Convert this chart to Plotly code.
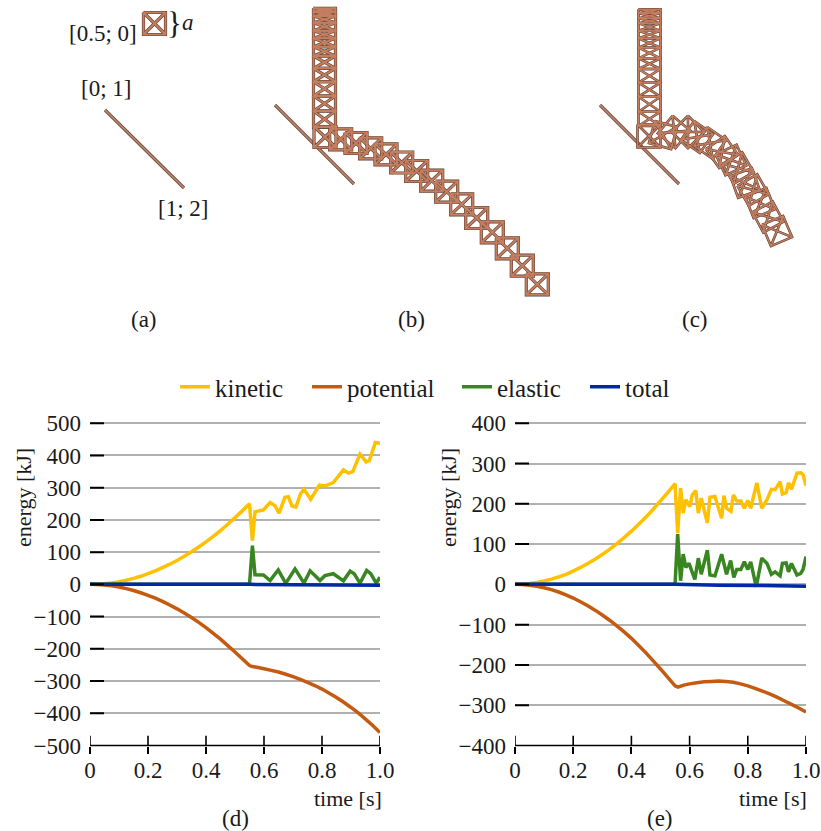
import math
import plotly.graph_objects as go

# ---------- energy data ----------
t_pre = [0, .025, .05, .075, .1, .125, .15, .175, .2, .225, .25, .275, .3, .325, .35, .375, .4, .425, .45, .475, .5, .525, .55]
kin_pre = [0, .5, 2, 4.6, 8.3, 13, 18.6, 25, 33, 42, 52, 62.5, 74, 87, 101, 116, 132, 149, 167, 186.5, 207, 228, 250]
pot_pre = [0, -.5, -2, -4.7, -8.4, -13.2, -19, -26, -34, -43, -53, -64, -76, -89, -103, -118, -134, -152, -170, -190, -210, -231, -252]

t_kin_d = [.56, .569, .598, .621, .638, .652, .672, .684, .696, .710, .726, .738, .761, .791, .810, .839, .874, .891, .906, .931, .952, .963, .984, 1.0]
kin_d = [136, 225, 231, 254, 244, 221, 270, 272, 244, 240, 281, 295, 264, 308, 305, 316, 355, 345, 350, 404, 380, 384, 440, 438]
t_ela_d = [0, .55, .56, .569, .598, .621, .649, .675, .707, .738, .759, .793, .81, .839, .874, .897, .911, .931, .954, .968, .987, 1.0]
ela_d = [0, 0, 120, 30, 29, 12, 45, 3, 48, 4, 42, 12, 27, 33, 11, 41, 33, 4, 43, 33, 4, 22]
t_pot_d = [.56, .58, .6, .625, .65, .675, .7, .725, .75, .775, .8, .825, .85, .875, .9, .925, .95, .975, 1.0]
pot_d = [-255, -258, -262, -267, -272, -279, -286, -295, -304, -314, -325, -338, -351, -366, -382, -399, -418, -438, -460]
t_tot_d = [0, .55, .7, .85, 1.0]
tot_d = [0, 0, -1, -2, -3]

t_kin_e = [.559, .569, .578, .587, .601, .609, .621, .630, .640, .661, .670, .687, .710, .718, .727, .742, .750, .762, .776, .788, .800, .810, .831, .848, .866, .881, .894, .911, .919, .932, .940, .950, .969, .982, .990, 1.0]
kin_e = [127, 239, 177, 210, 193, 222, 233, 177, 214, 153, 216, 218, 164, 220, 189, 181, 222, 207, 207, 189, 208, 189, 252, 189, 210, 236, 235, 255, 224, 228, 252, 236, 276, 277, 272, 245]
t_ela_e = [0, .55, .559, .569, .578, .587, .598, .618, .630, .640, .661, .670, .687, .710, .727, .741, .752, .762, .776, .788, .8, .81, .829, .848, .866, .881, .894, .911, .919, .932, .940, .950, .969, .982, .99, 1.0]
ela_e = [0, 0, 125, 9, 75, 42, 52, 12, 65, 25, 85, 23, 21, 75, 25, 59, 17, 37, 37, 56, 37, 56, -6, 65, 52, 25, 31, 21, 52, 53, 31, 52, 23, 27, 37, 69]
t_pot_e = [.56, .58, .6, .625, .65, .675, .7, .725, .75, .775, .8, .825, .85, .875, .9, .925, .95, .975, 1.0]
pot_e = [-255, -250, -247, -244, -242, -241, -240, -241, -243, -247, -252, -258, -265, -272, -280, -289, -298, -307, -317]
t_tot_e = [0, .55, .7, .85, 1.0]
tot_e = [0, 0, -2, -3, -5]

x_ticks = [0, .2, .4, .6, .8, 1.0]
x_labels = ["0", "0.2", "0.4", "0.6", "0.8", "1.0"]
y_ticks_d = [500, 400, 300, 200, 100, 0, -100, -200, -300, -400, -500]
y_labels_d = ["500", "400", "300", "200", "100", "0", "−100", "−200", "−300", "−400", "−500"]
y_ticks_e = [400, 300, 200, 100, 0, -100, -200, -300, -400]
y_labels_e = ["400", "300", "200", "100", "0", "−100", "−200", "−300", "−400"]
series_names = ["kinetic", "potential", "elastic", "total"]
series_colors = ["#ffc000", "#c55a11", "#38861f", "#002aa5"]
legend_left = [175, 307, 457, 585]

# ---------- schematic data (image-pixel scene) ----------
floor_x = [[105, 184], [275, 354], [600, 679]]
floor_y = [[110, 188], [105, 184], [105, 184]]
ref_cell = (154.5, 23.5, 22, 22, 0)

col_b_x = 324.5
col_b_bars = [8.3, 11.7, 16, 22.7, 30.7, 38.3, 46.7, 56, 68.3, 81.7, 96, 111, 127.3]
chain_b_x = [325, 340.7, 356, 370.7, 386, 401.7, 416.7, 431.7, 446.7, 461.7, 476.7, 492.3, 507.3, 522.3, 537.3]
chain_b_y = [137, 139.3, 143, 148.3, 154.3, 162.5, 171, 180.7, 191.7, 204.3, 218, 232.3, 248.3, 265.7, 284.3]

col_c_x = 649.5
col_c_bars = [9.3, 13.3, 18.3, 23.3, 30.7, 38.3, 47.7, 58.3, 69, 82.7, 96.7, 111.7, 126]
chain_c_x = [649, 663, 674, 688, 697, 710, 722, 731, 738, 745, 753, 760, 768, 777]
chain_c_y = [136, 135, 132, 132, 137, 143, 152, 160, 168, 183, 190, 203, 217, 231]
chain_c_a = [0, 15, 40, 45, 35, 35, -35, -25, -30, -20, -30, -22, -28, -23]


def cell_path(cx, cy, w, h, deg):
    a = math.radians(deg)
    c, s = math.cos(a), math.sin(a)
    pts = [(-w/2, -h/2), (w/2, -h/2), (w/2, h/2), (-w/2, h/2)]
    p = [(cx + u*c - v*s, cy + u*s + v*c) for u, v in pts]
    order = [p[0], p[1], p[2], p[3], p[0], None, p[0], p[2], None, p[1], p[3], None]
    return [q[0] if q else None for q in order], [q[1] if q else None for q in order]


def cells_to_path(cells):
    px, py = [], []
    for cell in cells:
        xs, ys = cell_path(*cell)
        px.extend(xs)
        py.extend(ys)
    return px, py


def column(col_x, bars):
    return [(col_x, (a + b) / 2, 22, b - a, 0) for a, b in zip(bars[:-1], bars[1:])]


group_b = [ref_cell] + column(col_b_x, col_b_bars) + [(x, y, 22, 21, 0) for x, y in zip(chain_b_x, chain_b_y)]
group_c = column(col_c_x, col_c_bars) + [(x, y, 23, 23, a) for x, y, a in zip(chain_c_x, chain_c_y, chain_c_a)]

fig = go.Figure()
SCENE = dict(xaxis="x3", yaxis="y3", mode="lines", showlegend=False, hoverinfo="skip")
for fx, fy in zip(floor_x, floor_y):
    fig.add_trace(go.Scatter(x=fx, y=fy, line=dict(color="#6e4a3c", width=3.2), **SCENE))
    fig.add_trace(go.Scatter(x=fx, y=fy, line=dict(color="#c08a72", width=1.6), **SCENE))
for cells, dark, light in ((group_b, 3.2, 2.1), (group_c, 2.6, 1.5)):
    sx, sy = cells_to_path(cells)
    fig.add_trace(go.Scatter(x=sx, y=sy, line=dict(color="#5a3a2e", width=dark), connectgaps=False, **SCENE))
    fig.add_trace(go.Scatter(x=sx, y=sy, line=dict(color="#c47e60", width=light), connectgaps=False, **SCENE))


def add_energy(xa, ya, tk, k, tp, p, te, e, tt, tot, legend):
    data = [(t_pre + tk, kin_pre + k), (t_pre + tp, pot_pre + p), (te, e), (tt, tot)]
    for i, ((tv, vals), name, col) in enumerate(zip(data, series_names, series_colors)):
        fig.add_trace(go.Scatter(x=tv, y=vals, name=name, xaxis=xa, yaxis=ya, mode="lines",
                                 line=dict(color=col, width=3.5, simplify=False), showlegend=legend, cliponaxis=False,
                                 legend="legend" if i == 0 else f"legend{i + 1}"))


def add_tick_marks(xa, ya, yvals):
    # y ticks: centred on the left edge, clipped by the plot area so only the inward half shows
    fig.add_trace(go.Scatter(x=[0] * (len(yvals) - 1), y=yvals[:-1], xaxis=xa, yaxis=ya, mode="markers", cliponaxis=True,
                             marker=dict(symbol="line-ew", size=20, line=dict(color="black", width=2)),
                             showlegend=False, hoverinfo="skip"))
    # upper half of the x ticks, also clipped at the axis; the lower half is the axis's own outside tick
    fig.add_trace(go.Scatter(x=x_ticks, y=[yvals[-1]] * len(x_ticks), xaxis=xa, yaxis=ya, mode="markers", cliponaxis=True,
                             marker=dict(symbol="line-ns", size=14, line=dict(color="black", width=1.6)),
                             showlegend=False, hoverinfo="skip"))


add_energy("x", "y", t_kin_d, kin_d, t_pot_d, pot_d, t_ela_d, ela_d, t_tot_d, tot_d, True)
add_energy("x2", "y2", t_kin_e, kin_e, t_pot_e, pot_e, t_ela_e, ela_e, t_tot_e, tot_e, False)
add_tick_marks("x", "y", y_ticks_d)
add_tick_marks("x2", "y2", y_ticks_e)

W, H = 821, 831
FONT = "Liberation Serif"
INK = "#000000"
dom_xd = [87 / W, 383 / W]
dom_xe = [512 / W, 809 / W]
dom_y = [1 - 745.5 / H, 1 - 421.6 / H]
xd_range = [-3 / 290, 1 + 3 / 290]
xe_range = [-3 / 291, 1 + 3 / 291]
xbase = dict(tickvals=x_ticks, ticktext=x_labels, showgrid=False, zeroline=False, showline=False,
             automargin=False, tickcolor=INK, tickwidth=1.6, ticks="outside", ticklen=7, ticklabelstandoff=-3,
             fixedrange=True)
ybase = dict(showgrid=True, gridcolor="#b0b0b0", gridwidth=1.6, zeroline=False, showline=False, automargin=False,
             ticks="", ticklabelstandoff=8, fixedrange=True)

annotations = []


def label(text, x, y, size=23, angle=0):
    annotations.append(dict(text=text, x=x, y=y, xref="x3", yref="y3", showarrow=False, textangle=angle,
                            font=dict(family=FONT, size=size, color="#1a1a1a"), xanchor="center", yanchor="middle"))


for txt, lx, ly in [("[0.5; 0]", 103, 33), ("[0; 1]", 106, 88), ("[1; 2]", 183, 208),
                    ("(a)", 144, 319), ("(b)", 411, 319), ("(c)", 695, 319),
                    ("(d)", 235, 818), ("(e)", 660, 818)]:
    label(txt, lx, ly)
label("time [s]", 348, 798, size=22)
label("time [s]", 773, 798, size=22)
label("energy [kJ]", 23, 498, size=22, angle=-90)
label("energy [kJ]", 448, 498, size=22, angle=-90)
label("}", 174, 23, size=31)
label("<i>a</i>", 188, 22, size=23)


def legend_box(left):
    return dict(orientation="h", x=left / W, y=1 - 387 / H, xanchor="left", yanchor="middle",
                font=dict(family=FONT, size=25, color="#1a1a1a"), itemwidth=30, bgcolor="rgba(0,0,0,0)")


fig.update_layout(
    width=W, height=H, autosize=False, margin=dict(l=0, r=0, t=0, b=0),
    paper_bgcolor="white", plot_bgcolor="rgba(0,0,0,0)",
    font=dict(family=FONT, size=23, color="#1a1a1a"),
    xaxis=dict(xbase, domain=[90 / W, 380 / W], range=[0, 1], anchor="y"),
    xaxis2=dict(xbase, domain=[515 / W, 806 / W], range=[0, 1], anchor="y2"),
    yaxis=dict(ybase, domain=dom_y, range=[-500, 505], tickvals=y_ticks_d, ticktext=y_labels_d, anchor="x"),
    yaxis2=dict(ybase, domain=dom_y, range=[-400, 404], tickvals=y_ticks_e, ticktext=y_labels_e, anchor="x2"),
    xaxis3=dict(domain=[0, 1], range=[0, W], visible=False, anchor="y3", fixedrange=True, automargin=False),
    yaxis3=dict(domain=[0, 1], range=[H, 0], visible=False, anchor="x3", fixedrange=True, automargin=False),
    legend=legend_box(legend_left[0]),
    legend2=legend_box(legend_left[1]),
    legend3=legend_box(legend_left[2]),
    legend4=legend_box(legend_left[3]),
    annotations=annotations,
    showlegend=True,
    shapes=[
        dict(type="line", xref="x domain", yref="y domain", x0=0, x1=1, y0=0, y1=0, line=dict(color=INK, width=1.6)),
        dict(type="line", xref="x2 domain", yref="y2 domain", x0=0, x1=1, y0=0, y1=0, line=dict(color=INK, width=1.6)),
    ],
)
fig.write_html("out.html", post_script="document.body.style.margin='0';", config={"displayModeBar": False})
